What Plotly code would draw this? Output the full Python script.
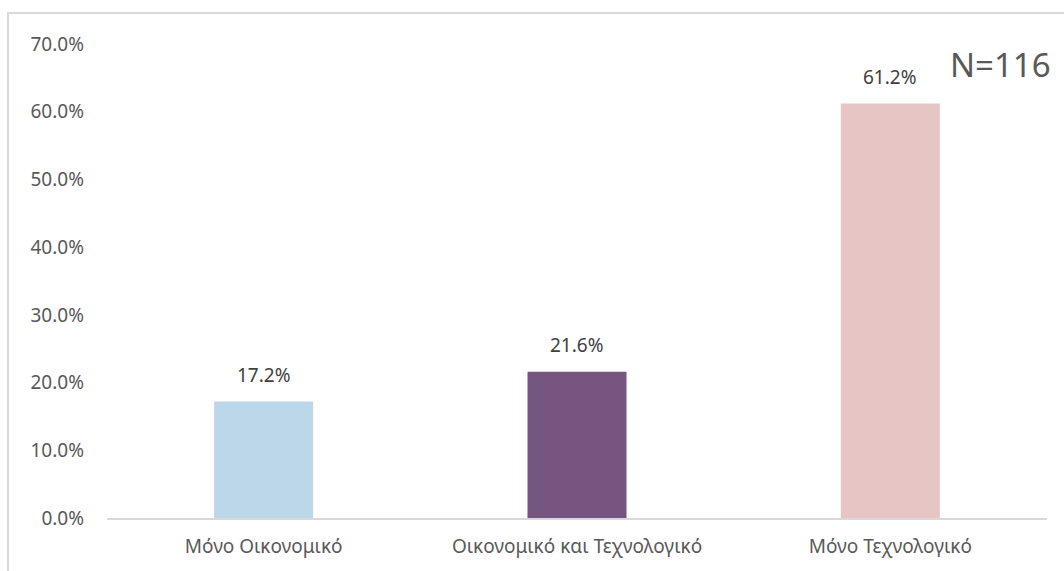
import plotly.graph_objects as go

categories = ["Μόνο Οικονομικό", "Οικονομικό και Τεχνολογικό", "Μόνο Τεχνολογικό"]
values = [17.2, 21.6, 61.2]
bar_colors = ["#BCD7E9", "#765680", "#E8C5C5"]
y_ticks = [0, 10, 20, 30, 40, 50, 60, 70]
note = "N=116"

FONT = "Noto Sans, Open Sans, DejaVu Sans, sans-serif"

fig = go.Figure(
    go.Bar(
        x=categories,
        y=values,
        marker=dict(color=bar_colors, line=dict(width=0)),
        hoverinfo="skip",
    )
)

for c, v in zip(categories, values):
    fig.add_annotation(
        x=c, y=v, xref="x", yref="y", text=f"{v:.1f}%",
        showarrow=False, yanchor="bottom", yshift=12,
        font=dict(family=FONT, size=19, color="#404040"),
    )

fig.update_layout(
    width=1064,
    height=571,
    margin=dict(l=107, r=17, t=44, b=53),
    plot_bgcolor="white",
    paper_bgcolor="white",
    bargap=0.684,
    showlegend=False,
    font=dict(family=FONT, color="#595959", size=19),
)

fig.update_yaxes(
    range=[0, 70],
    tickvals=y_ticks,
    ticktext=[f"{t:.1f}%" for t in y_ticks],
    showgrid=False,
    zeroline=False,
    showline=False,
    ticks="",
    ticklabelstandoff=22,
    tickfont=dict(family=FONT, size=19, color="#595959"),
)
fig.update_xaxes(
    showgrid=False,
    showline=True,
    linecolor="#D9D9D9",
    linewidth=1.5,
    ticks="",
    ticklabelstandoff=10,
    tickfont=dict(family=FONT, size=19, color="#595959"),
)

# chart frame (outer border)
fig.add_shape(
    type="rect", xref="paper", yref="paper",
    x0=(8 - 107) / 940, x1=1.2, y0=-0.3, y1=(518 - 13) / 474,
    line=dict(color="#D9D9D9", width=2), fillcolor="rgba(0,0,0,0)", layer="below",
)

fig.add_annotation(
    text=note, xref="paper", yref="paper",
    x=(1053 - 107) / 940, y=(518 - 64) / 474,
    xanchor="right", yanchor="middle", showarrow=False,
    font=dict(family=FONT, size=33, color="#595959"),
)

fig.write_html(
    "out.html",
    config={"displayModeBar": False},
    post_script="document.body.style.margin='0';document.body.style.overflow='hidden';",
)
